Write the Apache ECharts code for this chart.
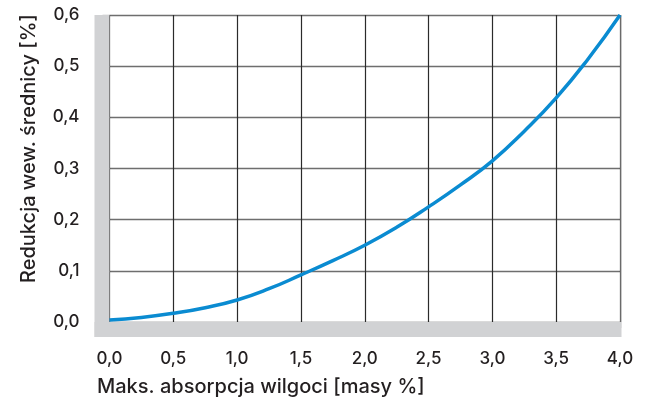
<!DOCTYPE html>
<html>
<head>
<meta charset="utf-8">
<script src="https://cdn.jsdelivr.net/npm/echarts@6/dist/echarts.min.js"></script>
<style>
  html, body { margin: 0; padding: 0; background: #fff; }
  #chart { width: 645px; height: 416px; }
</style>
</head>
<body>
<div id="chart"></div>
<script>
// Moisture absorption (mass %) vs. inner-diameter reduction (%)
const absorption = [0, 0.25, 0.5, 0.75, 1.0, 1.25, 1.5, 1.75, 2.0, 2.25, 2.5, 2.75, 3.0, 3.25, 3.5, 3.75, 4.0];
const reduction  = [0.004, 0.009, 0.017, 0.028, 0.043, 0.065, 0.092, 0.120, 0.150, 0.185, 0.225, 0.268, 0.315, 0.373, 0.438, 0.514, 0.600];

const xTitle = 'Maks. absorpcja wilgoci [masy %]';
const yTitle = 'Redukcja wew. średnicy [%]';

const FONT = 'Inter, "Liberation Sans", Arial, sans-serif';
const TEXT = '#231f20';
const BAND = '#d1d2d4';

const chart = echarts.init(document.getElementById('chart'), null, { renderer: 'canvas' });

const fmt = v => v.toFixed(1).replace('.', ',');

chart.setOption({
  animation: false,
  backgroundColor: '#ffffff',
  grid: { left: 109.5, right: 25, top: 15, bottom: 94, containLabel: false },
  xAxis: {
    type: 'value', min: 0, max: 4, interval: 0.5,
    offset: 16,
    axisLine: { show: false },
    axisTick: { show: true, length: 6, lineStyle: { color: '#333', width: 1.2 } },
    axisLabel: { formatter: fmt, margin: 12, fontFamily: FONT, fontWeight: 500, fontSize: 17, color: TEXT },
    splitLine: { show: true, lineStyle: { color: '#2b2b2b', width: 1.2 } }
  },
  yAxis: {
    type: 'value', min: 0, max: 0.6, interval: 0.1,
    offset: 15,
    axisLine: { show: false },
    axisTick: { show: true, length: 7, lineStyle: { color: '#555', width: 1.2 } },
    axisLabel: { formatter: fmt, margin: 15, fontFamily: FONT, fontWeight: 500, fontSize: 17, color: TEXT },
    splitLine: { show: true, lineStyle: { color: '#6e6e6e', width: 1.4 } }
  },
  series: [{
    type: 'line',
    data: absorption.map((x, i) => [x, reduction[i]]),
    smooth: true,
    showSymbol: false,
    z: 5,
    lineStyle: { color: '#0a8bd1', width: 3.5 }
  }]
});

// Grey frame bands along the left and bottom edges of the plot, plus titles
const p00 = chart.convertToPixel({ gridIndex: 0 }, [0, 0]);
const p46 = chart.convertToPixel({ gridIndex: 0 }, [4, 0.6]);
const bw = 15;

chart.setOption({
  graphic: [
    { type: 'rect', z: 3, shape: { x: p00[0] - bw, y: p46[1], width: bw, height: p00[1] - p46[1] + bw }, style: { fill: BAND } },
    { type: 'rect', z: 3, shape: { x: p00[0] - bw, y: p00[1], width: p46[0] - p00[0] + bw + 1.5, height: bw }, style: { fill: BAND } },
    { type: 'rect', z: 3, shape: { x: p46[0] + 0.6, y: p46[1], width: 1.4, height: p00[1] - p46[1] }, style: { fill: '#c8c8c8' } },
    { type: 'text', z: 6, left: 97, top: 377,
      style: { text: xTitle, font: '500 20px ' + FONT, fill: TEXT } },
    { type: 'text', z: 6, x: 19, y: 148.5, rotation: Math.PI / 2,
      style: { text: yTitle, font: '500 20px ' + FONT, fill: TEXT, align: 'center', verticalAlign: 'top' } }
  ]
});
</script>
</body>
</html>
